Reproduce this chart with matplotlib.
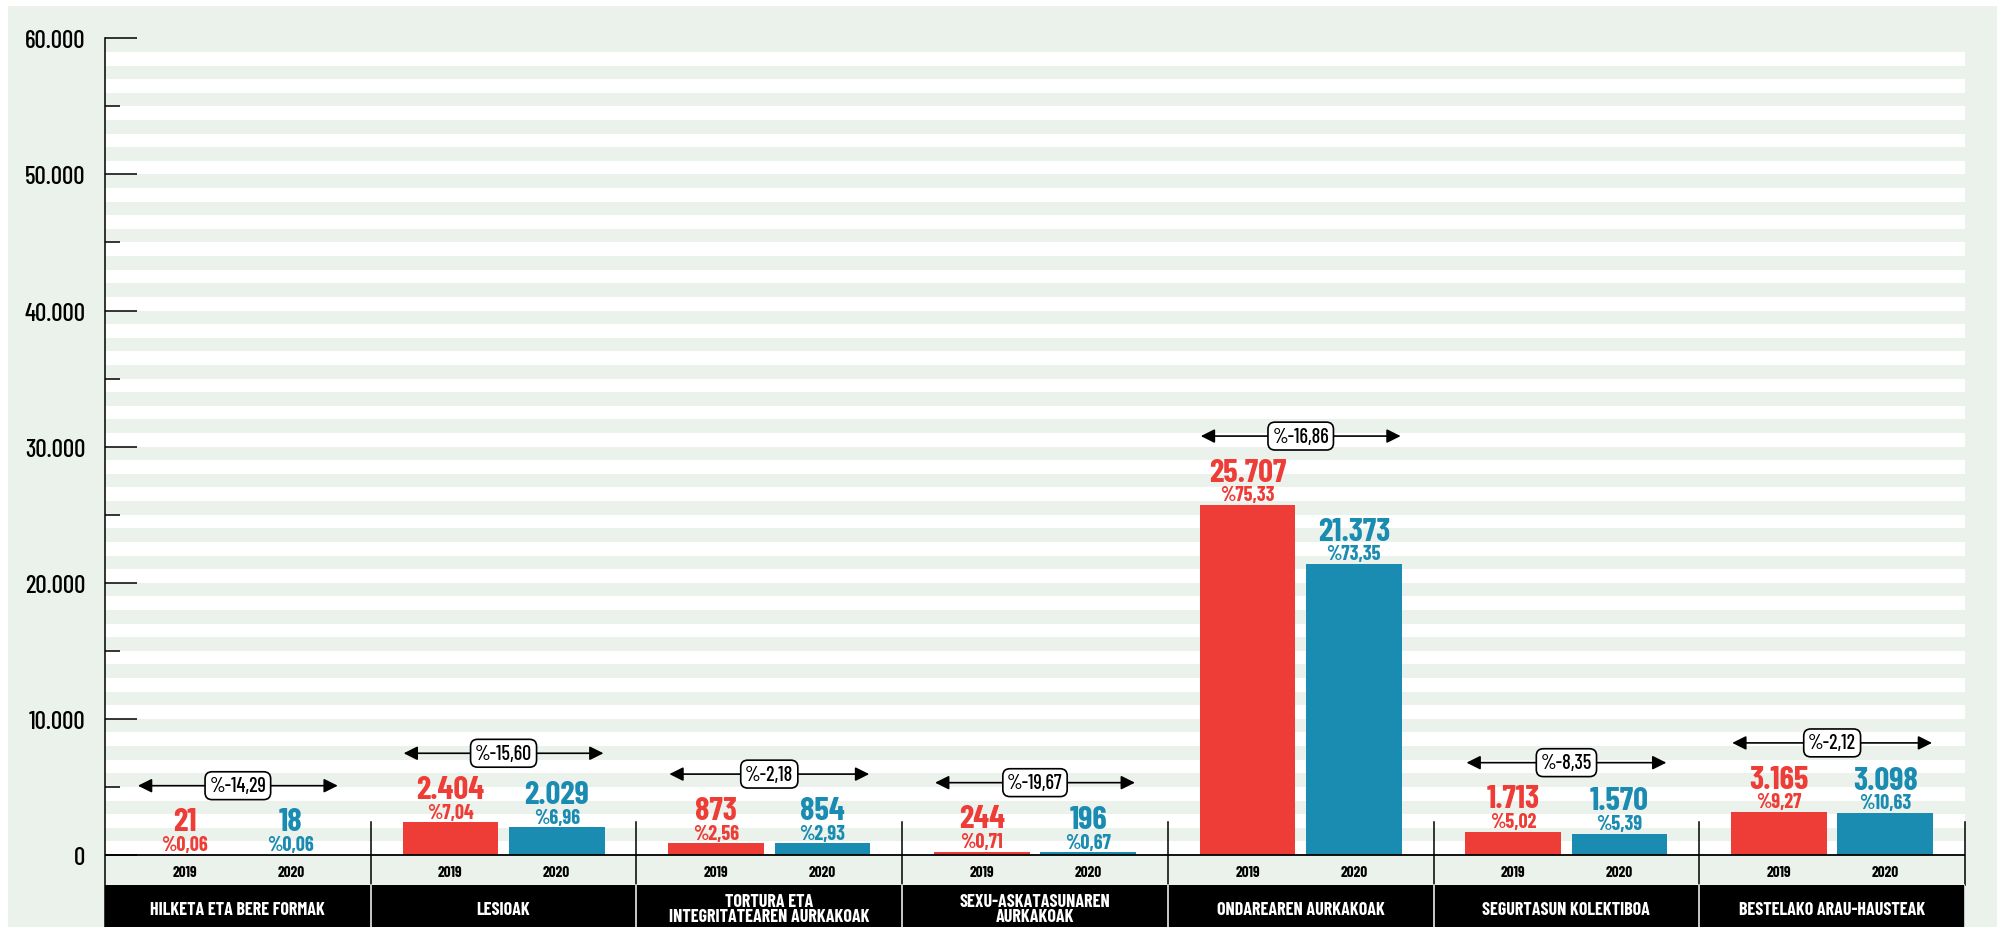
import matplotlib.pyplot as plt
from matplotlib.patches import Rectangle

#--Data--#
categories = ["HILKETA ETA BERE FORMAK", "LESIOAK", "TORTURA ETA\nINTEGRITATEAREN AURKAKOAK",
              "SEXU-ASKATASUNAREN\nAURKAKOAK", "ONDAREAREN AURKAKOAK",
              "SEGURTASUN KOLEKTIBOA", "BESTELAKO ARAU-HAUSTEAK"]
years = ["2019", "2020"]
v2019 = [21, 2404, 873, 244, 25707, 1713, 3165]
v2020 = [18, 2029, 854, 196, 21373, 1570, 3098]
pct2019 = [0.06, 7.04, 2.56, 0.71, 75.33, 5.02, 9.27]
pct2020 = [0.06, 6.96, 2.93, 0.67, 73.35, 5.39, 10.63]
change = [-14.29, -15.60, -2.18, -19.67, -16.86, -8.35, -2.12]

RED = "#EE3C37"
BLUE = "#1A8BB1"
GREEN = "#EBF2EB"
plt.rcParams['font.family'] = ["Barlow Condensed", "DejaVu Sans"]


def thousands(v):
    return f"{v:,}".replace(",", ".")


def pct(v):
    return "%" + f"{v:.2f}".replace(".", ",")


fig = plt.figure(figsize=(20.02, 9.28), dpi=100)
fig.add_artist(Rectangle((8 / 2002, 0), 1989 / 2002, 921 / 928, transform=fig.transFigure,
                         color=GREEN, lw=0, zorder=-1))

ax = fig.add_axes([105 / 2002, 0, 1860 / 2002, 1 - 39.3 / 928])
ax.set_facecolor("none")
ax.set_xlim(0, 7)
ax.set_ylim(-5290, 60000)

# white stripes
for y0 in range(0, 60000, 2000):
    ax.axhspan(y0, y0 + 1000, color="white", lw=0, zorder=0.5)

# bottom bands
YEAR_BOTTOM = -2200
ax.axhspan(-5290, YEAR_BOTTOM, color="black", lw=0, zorder=1)
ax.axhline(0, color="black", lw=1.3, zorder=3)

# group dividers
for i in range(1, 8):
    ax.plot([i, i], [YEAR_BOTTOM, 2420], color="black", lw=1.1, zorder=3, clip_on=False)
    ax.plot([i, i], [-5290, YEAR_BOTTOM], color="white", lw=1.1, zorder=3)

centers = [i + 0.5 for i in range(7)]
off, w = 0.2, 0.36
ax.bar([c - off for c in centers], v2019, width=w, color=RED, zorder=2)
ax.bar([c + off for c in centers], v2020, width=w, color=BLUE, zorder=2)

for i, c in enumerate(centers):
    for x, v, p, col in [(c - off, v2019[i], pct2019[i], RED), (c + off, v2020[i], pct2020[i], BLUE)]:
        ax.annotate(thousands(v), (x, v), xytext=(0, 17.5), textcoords="offset points",
                    ha="center", va="baseline", fontsize=23.5, fontweight="bold", color=col)
        ax.annotate(pct(p), (x, v), xytext=(0, 3.3), textcoords="offset points",
                    ha="center", va="baseline", fontsize=14.5, fontweight="bold", color=col)
    for x, yr in [(c - off, years[0]), (c + off, years[1])]:
        ax.text(x, -1250, yr, ha="center", va="center", fontsize=11, fontweight="bold")
    ax.text(c, -3970, categories[i], ha="center", va="center", fontsize=13, fontweight="bold",
            color="white", linespacing=0.9)

    # change arrow
    ya = max(v2019[i], v2020[i]) + 5070
    ax.annotate("", xy=(c + 0.376, ya), xytext=(c - 0.376, ya),
                arrowprops=dict(arrowstyle="<|-|>,head_length=0.6,head_width=0.3",
                                color="black", lw=1.2, mutation_scale=14, shrinkA=0, shrinkB=0),
                zorder=4)
    ax.text(c, ya, pct(change[i]), ha="center", va="center", fontsize=14.5, fontweight="medium",
            zorder=5, bbox=dict(boxstyle="round,pad=0.22,rounding_size=0.35", fc="white",
                                ec="black", lw=1.2))

# axis styling
for s in ["top", "right", "bottom"]:
    ax.spines[s].set_visible(False)
ax.spines["left"].set_linewidth(1.1)
ticks = list(range(0, 60001, 10000))
ax.set_yticks(ticks)
ax.set_yticklabels([thousands(t) for t in ticks], fontweight="medium")
ax.set_yticks(list(range(5000, 60000, 10000)), minor=True)
ax.tick_params(axis="y", which="major", direction="in", length=23, width=1.1, pad=14, labelsize=18)
ax.tick_params(axis="y", which="minor", direction="in", length=11, width=1.1)
ax.set_xticks([])

fig.savefig("out.png", dpi=100)
